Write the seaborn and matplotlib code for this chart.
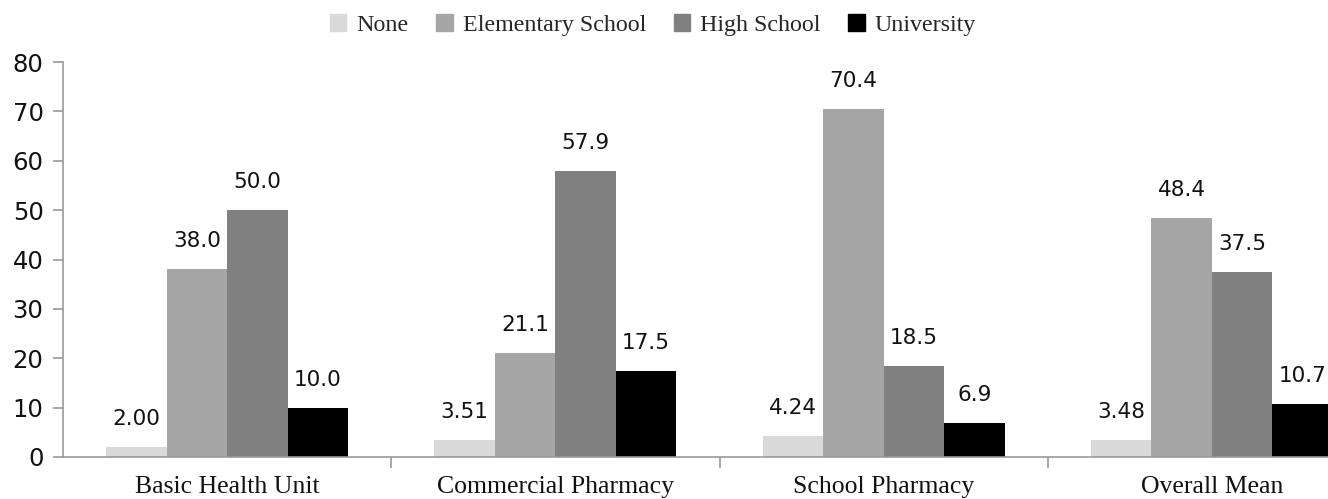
import pandas as pd
import matplotlib.pyplot as plt
import seaborn as sns
from matplotlib.ticker import FixedLocator

sns.set_theme(style="white")

# data
sites = ["Basic Health Unit", "Commercial Pharmacy", "School Pharmacy", "Overall Mean"]
levels = ["None", "Elementary School", "High School", "University"]
none_vals = [2.00, 3.51, 4.24, 3.48]
elementary_vals = [38.0, 21.1, 70.4, 48.4]
high_vals = [50.0, 57.9, 18.5, 37.5]
university_vals = [10.0, 17.5, 6.9, 10.7]
none_labels = ["2.00", "3.51", "4.24", "3.48"]
elementary_labels = ["38.0", "21.1", "70.4", "48.4"]
high_labels = ["50.0", "57.9", "18.5", "37.5"]
university_labels = ["10.0", "17.5", "6.9", "10.7"]
colors = ["#d9d9d9", "#a6a6a6", "#808080", "#000000"]

df = pd.DataFrame({
    "site": sites * 4,
    "level": [lv for lv in levels for _ in sites],
    "value": none_vals + elementary_vals + high_vals + university_vals,
})
bar_texts = [none_labels, elementary_labels, high_labels, university_labels]

fig = plt.figure(figsize=(13.28, 4.99), dpi=100)
# axes runs past the right edge, the reference is cropped there
ax = fig.add_axes([63 / 1328, 42 / 499, 1313 / 1328, 395 / 499])

sns.barplot(data=df, x="site", y="value", hue="level", order=sites,
            hue_order=levels, palette=colors, width=0.737, gap=0,
            saturation=1, edgecolor="none", linewidth=0, ax=ax)

for cont, texts in zip(ax.containers, bar_texts):
    ax.bar_label(cont, labels=texts, padding=13, fontsize=15.5,
                 family="DejaVu Sans", color="#111111")

ax.set_ylim(0, 80)
ax.set_xlim(-0.5, 3.5)
ax.set_yticks(range(0, 81, 10))
ax.set_xlabel("")
ax.set_ylabel("")

spine_col = "#999999"
for s in ["top", "right"]:
    ax.spines[s].set_visible(False)
for s in ["left", "bottom"]:
    ax.spines[s].set_color(spine_col)
    ax.spines[s].set_linewidth(1.2)

ax.tick_params(axis="y", which="major", direction="out", length=7,
               width=1.2, color=spine_col, labelsize=17.5, pad=7,
               left=True, labelcolor="#111111")
ax.xaxis.set_minor_locator(FixedLocator([0.5, 1.5, 2.5]))
ax.tick_params(axis="x", which="major", length=0, pad=14)
ax.tick_params(axis="x", which="minor", direction="out", length=8,
               width=1.2, color=spine_col, bottom=True)
for lab in ax.get_xticklabels():
    lab.set_family("Liberation Serif")
    lab.set_fontsize(18.5)
    lab.set_color("#111111")
for lab in ax.get_yticklabels():
    lab.set_family("DejaVu Sans")

ax.legend_.remove()
handles = [plt.Rectangle((0, 0), 1, 1, color=c) for c in colors]
fig.legend(handles, levels, loc="center", bbox_to_anchor=(653 / 1328, 1 - 25 / 499),
           ncol=4, frameon=False, prop={"family": "Liberation Serif", "size": 17.3},
           handlelength=0.68, handleheight=0.68, handletextpad=0.42,
           columnspacing=1.15)

fig.savefig("out.png", dpi=100)
